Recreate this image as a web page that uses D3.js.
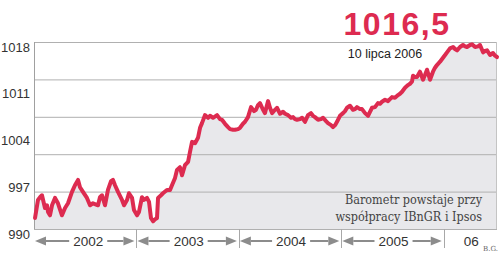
<!DOCTYPE html>
<html><head><meta charset="utf-8">
<script src="https://cdn.jsdelivr.net/npm/d3@7"></script>
<style>
html,body{margin:0;padding:0;background:#fff;}
svg{display:block;}
</style></head>
<body>
<svg id="chart" width="500" height="254"></svg>
<script>
// ---- data (decimal year, index value) ----
const dates = [2002.010,2002.039,2002.059,2002.078,2002.107,2002.127,2002.137,2002.156,2002.176,2002.205,
2002.234,2002.273,2002.303,2002.332,2002.371,2002.400,2002.430,2002.449,2002.478,2002.517,
2002.547,2002.576,2002.625,2002.644,2002.664,2002.693,2002.722,2002.752,2002.771,2002.791,
2002.820,2002.859,2002.879,2002.908,2002.927,2002.957,2002.976,2003.006,2003.025,2003.054,
2003.074,2003.103,2003.123,2003.142,2003.162,2003.181,2003.201,2003.211,2003.240,2003.259,
2003.298,2003.328,2003.347,2003.377,2003.396,2003.425,2003.445,2003.474,2003.504,2003.523,
2003.543,2003.572,2003.601,2003.621,2003.640,2003.669,2003.699,2003.718,2003.748,2003.787,
2003.816,2003.835,2003.865,2003.894,2003.914,2003.943,2003.962,2003.992,2004.011,2004.040,
2004.060,2004.089,2004.119,2004.148,2004.167,2004.187,2004.206,2004.236,2004.255,2004.285,
2004.304,2004.324,2004.353,2004.372,2004.402,2004.431,2004.451,2004.480,2004.509,2004.529,
2004.548,2004.568,2004.597,2004.617,2004.646,2004.675,2004.704,2004.724,2004.743,2004.773,
2004.802,2004.822,2004.851,2004.870,2004.900,2004.919,2004.939,2004.958,2004.987,2005.017,
2005.036,2005.056,2005.085,2005.114,2005.134,2005.153,2005.183,2005.202,2005.232,2005.261,
2005.280,2005.300,2005.329,2005.358,2005.378,2005.397,2005.427,2005.456,2005.475,2005.495,
2005.524,2005.554,2005.573,2005.593,2005.622,2005.651,2005.671,2005.690,2005.700,2005.720,
2005.739,2005.768,2005.798,2005.817,2005.837,2005.866,2005.895,2005.915,2005.934,2005.964,
2005.993,2006.013,2006.032,2006.061,2006.091,2006.110,2006.130,2006.159,2006.188,2006.208,
2006.227,2006.257,2006.276,2006.306,2006.335,2006.354,2006.384,2006.403,2006.423,2006.452,
2006.481,2006.501,2006.520];
const values = [992.4,995.1,995.5,995.8,993.9,994.3,993.3,992.8,994.3,995.4,
994.6,992.8,993.9,994.6,996.3,997.3,998.1,997.0,996.3,995.4,
994.3,994.6,994.3,995.5,995.8,994.3,996.6,997.9,998.1,997.3,
996.3,995.1,994.3,995.1,996.1,995.4,993.6,992.8,993.3,995.5,
995.1,995.4,994.8,992.4,991.9,992.2,992.4,995.4,995.8,996.1,
996.6,996.6,997.3,998.4,999.6,1000.0,998.8,1000.3,1000.8,1002.3,
1003.8,1003.6,1004.4,1005.9,1006.6,1007.8,1007.4,1007.7,1007.4,1007.8,
1007.2,1007.1,1006.5,1006.0,1005.7,1005.6,1005.6,1005.7,1005.9,1006.5,
1006.8,1007.5,1009.0,1008.4,1008.6,1009.3,1009.6,1008.6,1008.1,1009.9,
1008.9,1008.1,1008.6,1008.9,1008.0,1008.3,1008.0,1007.8,1007.4,1007.5,
1007.2,1007.1,1007.2,1007.4,1006.8,1007.8,1008.1,1007.7,1007.5,1007.1,
1007.2,1007.4,1006.9,1006.6,1006.3,1006.0,1006.3,1006.8,1007.7,1008.1,
1008.4,1008.9,1009.2,1008.6,1008.7,1009.0,1008.7,1008.7,1008.1,1007.7,
1008.3,1008.9,1009.0,1009.6,1009.5,1009.8,1010.1,1009.9,1010.2,1010.5,
1010.4,1010.8,1011.0,1011.3,1011.9,1012.3,1012.5,1012.8,1013.7,1013.5,
1013.5,1014.3,1013.1,1013.8,1014.6,1013.1,1014.3,1014.9,1015.3,1015.8,
1016.4,1016.8,1017.2,1017.8,1018.0,1017.7,1017.5,1018.0,1018.3,1018.1,
1018.0,1018.3,1018.4,1018.0,1018.1,1018.3,1017.2,1017.4,1017.5,1016.8,
1017.1,1016.7,1016.5];
const yTicks = [1018, 1011, 1004, 997, 990];
const yearStarts = [2002, 2003, 2004, 2005, 2006];
const yearLabels = ["2002", "2003", "2004", "2005", "06"];
const lastValueLabel = "1016,5";
const lastDateLabel = "10 lipca 2006";
const noteLines = ["Barometr powstaje przy", "współpracy IBnGR i Ipsos"];
const credit = "B.G.";

// ---- layout ----
const W = 500, H = 254;
const plot = {left: 34, right: 497, top: 42, bottom: 229};
const red = "#dd2b50";
const svg = d3.select("#chart");
const data = dates.map((d, i) => ({t: d, v: values[i]}));

const x = d3.scaleLinear().domain([2002, 2006.52]).range([plot.left, plot.right]);
const y = d3.scaleLinear().domain([990, 1018]).range([234, 47]);

// area fill
svg.append("path")
  .datum(data)
  .attr("fill", "#e8e8eb")
  .attr("d", d3.area().x(d => x(d.t)).y0(plot.bottom).y1(d => y(d.v)));

// grid lines (6 evenly spaced across the plot box)
const gridY = d3.scaleLinear().domain([0, 5]).range([plot.top, plot.bottom]);
svg.append("g").selectAll("line").data(d3.range(6)).join("line")
  .attr("x1", plot.left).attr("x2", plot.right)
  .attr("y1", i => gridY(i) + 0.5).attr("y2", i => gridY(i) + 0.5)
  .attr("stroke", "#b0b0b0").attr("stroke-width", 1);

// left and right borders
svg.append("line").attr("x1", plot.left + 0.5).attr("x2", plot.left + 0.5)
  .attr("y1", plot.top).attr("y2", plot.bottom).attr("stroke", "#a0a0a0");
svg.append("line").attr("x1", plot.right - 0.5).attr("x2", plot.right - 0.5)
  .attr("y1", plot.top).attr("y2", plot.bottom).attr("stroke", "#c4c4c4");

// line
svg.append("path")
  .datum(data)
  .attr("fill", "none")
  .attr("stroke", red)
  .attr("stroke-width", 4)
  .attr("stroke-linejoin", "round")
  .attr("stroke-linecap", "round")
  .attr("d", d3.line().x(d => x(d.t)).y(d => y(d.v)));

// y labels
svg.append("g").selectAll("text").data(yTicks).join("text")
  .attr("x", 30).attr("y", d => y(d)).attr("dy", "0.36em")
  .attr("text-anchor", "end")
  .attr("font-family", "Liberation Sans, Arial, sans-serif")
  .attr("font-size", 13).attr("fill", "#333")
  .text(d => d);

// year separators
svg.append("g").selectAll("line").data(yearStarts.slice(1)).join("line")
  .attr("x1", d => Math.round(x(d)) + 0.5).attr("x2", d => Math.round(x(d)) + 0.5)
  .attr("y1", plot.bottom).attr("y2", 248)
  .attr("stroke", "#a8a8a8").attr("stroke-width", 1);

// year labels and arrows
const arrowY = 241;
const grey = "#8c8c8c";
const xg = svg.append("g");
yearStarts.forEach((ys, i) => {
  const x0 = x(ys);
  const x1 = i < yearStarts.length - 1 ? x(yearStarts[i + 1]) : plot.right;
  const mid = (x0 + x1) / 2 + (i === 0 ? 3 : 1);
  const t = xg.append("text")
    .attr("x", mid).attr("y", arrowY).attr("dy", "0.36em")
    .attr("text-anchor", "middle")
    .attr("font-family", "Liberation Sans, Arial, sans-serif")
    .attr("font-size", 13.5).attr("fill", "#333")
    .text(yearLabels[i]);
  if (i === yearStarts.length - 1) return;
  const half = t.node().getComputedTextLength() / 2;
  const segs = [[x0 + 1, mid - half - 4], [x1 - 2, mid + half + 4]];
  segs.forEach(([tip, end]) => {
    const dir = Math.sign(end - tip);
    const headLen = 11, headH = 4.5;
    xg.append("line")
      .attr("x1", tip + dir * headLen).attr("x2", end)
      .attr("y1", arrowY).attr("y2", arrowY)
      .attr("stroke", grey).attr("stroke-width", 2);
    xg.append("path")
      .attr("d", `M${tip},${arrowY} L${tip + dir * headLen},${arrowY - headH} L${tip + dir * headLen},${arrowY + headH} Z`)
      .attr("fill", grey);
  });
});

// big value label
svg.append("text")
  .attr("x", 397).attr("y", 35)
  .attr("text-anchor", "middle")
  .attr("font-family", "Liberation Sans, Arial, sans-serif")
  .attr("font-weight", "bold")
  .attr("font-size", 32).attr("letter-spacing", 1.5)
  .attr("fill", red)
  .text(lastValueLabel);

svg.append("text")
  .attr("x", 385).attr("y", 53).attr("dy", "0.36em")
  .attr("text-anchor", "middle")
  .attr("font-family", "Liberation Sans, Arial, sans-serif")
  .attr("font-size", 12.5).attr("fill", "#222")
  .text(lastDateLabel);

// note
svg.append("g").selectAll("text").data(noteLines).join("text")
  .attr("x", 482).attr("y", (d, i) => 199 + i * 17.5).attr("dy", "0.36em")
  .attr("text-anchor", "end")
  .attr("font-family", "DejaVu Serif Condensed, DejaVu Serif, serif")
  .attr("font-size", 12.5).attr("fill", "#444")
  .text(d => d);

// credit
svg.append("text")
  .attr("x", 498).attr("y", 251)
  .attr("text-anchor", "end")
  .attr("font-family", "DejaVu Serif, serif")
  .attr("font-size", 7).attr("fill", "#666")
  .text(credit);
</script>
</body></html>
